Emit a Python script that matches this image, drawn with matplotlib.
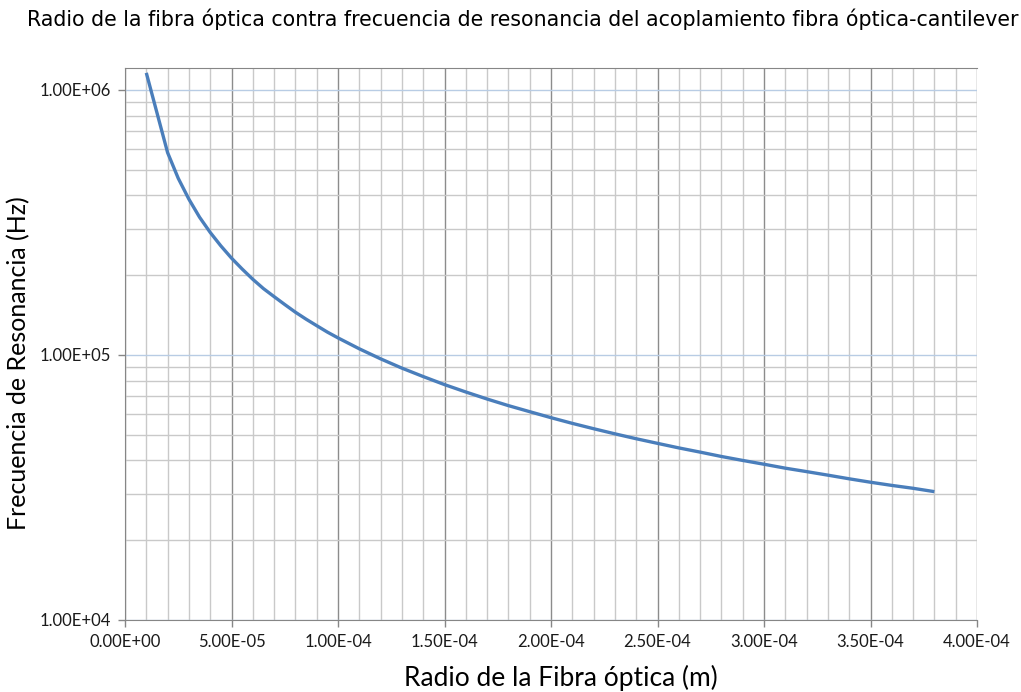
import matplotlib
matplotlib.use("Agg")
import matplotlib.pyplot as plt
from matplotlib.ticker import FixedLocator, LogLocator, NullFormatter, FuncFormatter

# radio de la fibra (m) y frecuencia de resonancia (Hz)
radio = [1e-5, 2e-5, 2.5e-5, 3e-5, 3.5e-5, 4e-5, 4.5e-5, 5e-5, 5.5e-5, 6e-5, 6.5e-5,
         7e-5, 7.5e-5, 8e-5, 8.5e-5, 9e-5, 9.5e-5, 1e-4,
         1.1e-4, 1.2e-4, 1.3e-4, 1.4e-4, 1.5e-4, 1.6e-4, 1.7e-4, 1.8e-4, 1.9e-4, 2e-4,
         2.1e-4, 2.2e-4, 2.3e-4, 2.4e-4, 2.5e-4, 2.6e-4, 2.7e-4, 2.8e-4, 2.9e-4, 3e-4,
         3.1e-4, 3.2e-4, 3.3e-4, 3.4e-4, 3.5e-4, 3.6e-4, 3.7e-4, 3.8e-4]
frecuencia = [1160000, 580000, 464000, 387000, 331000, 290000, 258000, 232000, 211000,
              193000, 178000, 166000, 155000, 145000, 136500, 129000, 122000, 116000,
              105500, 96700, 89200, 82900, 77300, 72500, 68200, 64400, 61100, 58000,
              55200, 52700, 50400, 48300, 46400, 44600, 43000, 41400, 40000, 38700,
              37400, 36300, 35200, 34100, 33100, 32200, 31400, 30500]

x_ticks = [0, 5e-5, 1e-4, 1.5e-4, 2e-4, 2.5e-4, 3e-4, 3.5e-4, 4e-4]
y_ticks = [1e4, 1e5, 1e6]

titulo = "Radio de la fibra óptica contra frecuencia de resonancia del acoplamiento fibra óptica-cantilever"

plt.rcParams['font.family'] = ['Lato', 'DejaVu Sans']

fig = plt.figure(figsize=(10.21, 6.92), dpi=100)
ax = fig.add_axes([125/1021, 1 - 620/692, 852/1021, 552/692])

ax.set_yscale('log')
ax.set_xlim(0, 4e-4)
ax.set_ylim(1e4, 1.21e6)

# rejilla
ax.xaxis.set_major_locator(FixedLocator(x_ticks))
ax.xaxis.set_minor_locator(FixedLocator([i * 1e-5 for i in range(41)]))
ax.yaxis.set_major_locator(FixedLocator(y_ticks))
ax.yaxis.set_minor_locator(LogLocator(base=10, subs=range(2, 10)))
ax.yaxis.set_minor_formatter(NullFormatter())

ax.grid(which='minor', axis='both', color='#c9c9c9', linewidth=1.0)
ax.grid(which='major', axis='x', color='#8c8c8c', linewidth=1.0)
ax.grid(which='major', axis='y', color='#b8cce4', linewidth=1.0)
ax.set_axisbelow(True)

ax.plot(radio, frecuencia, color='#4a7ebb', linewidth=2.4, solid_capstyle='butt', zorder=3)

fmt = lambda v, p: ("%.2E" % v)
ax.xaxis.set_major_formatter(FuncFormatter(fmt))
ax.yaxis.set_major_formatter(FuncFormatter(fmt))

ax.tick_params(which='major', length=5, width=1, color='#868686', labelsize=12, pad=5,
               labelcolor='#1a1a1a')
ax.tick_params(which='minor', length=0)

for s in ['left', 'bottom', 'top']:
    ax.spines[s].set_color('#868686')
ax.spines['right'].set_visible(False)

ax.set_xlabel("Radio de la Fibra óptica (m)", fontsize=19)
ax.xaxis.set_label_coords((561 - 125) / 852, -(678 - 620) / 552)
ax.xaxis.label.set_va('center')
ax.set_ylabel("Frecuencia de Resonancia (Hz)", fontsize=18)
ax.yaxis.set_label_coords(-(125 - 19) / 852, (620 - 363) / 552)
ax.yaxis.label.set_va('center')

fig.text(523 / 1021, 1 - 19 / 692, titulo, ha='center', va='center', fontsize=14.8,
         family=['Liberation Sans Narrow', 'DejaVu Sans'])

fig.savefig("out.png", dpi=100)
